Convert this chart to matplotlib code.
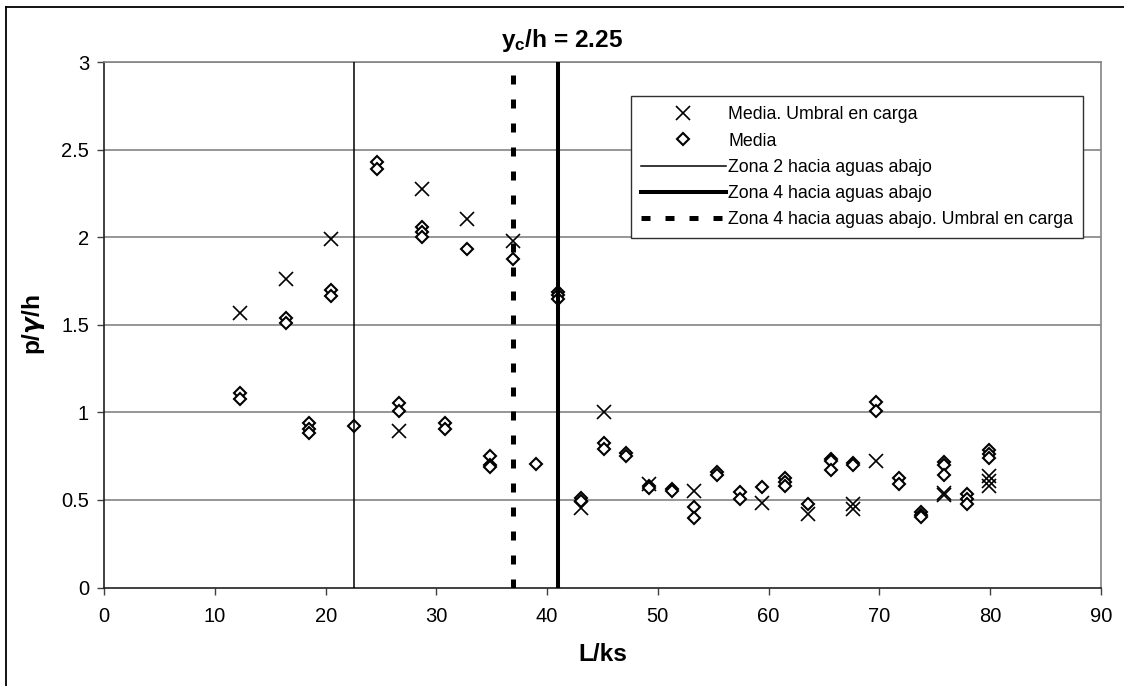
import matplotlib
matplotlib.use("Agg")
import matplotlib.pyplot as plt
from matplotlib import font_manager
from matplotlib.lines import Line2D

# ---- data -------------------------------------------------------------
# Media. Umbral en carga (crosses)
L_umbral = [12.3, 16.4, 20.5, 26.65, 28.7, 32.8, 36.9, 43.05, 45.1, 49.2,
            53.3, 59.45, 63.55, 67.65, 67.65, 69.7, 75.85, 75.85,
            79.95, 79.95, 79.95]
p_umbral = [1.567, 1.76, 1.99, 0.895, 2.274, 2.103, 1.977, 0.452, 1.0, 0.59,
            0.553, 0.48, 0.419, 0.478, 0.447, 0.722, 0.54, 0.53,
            0.636, 0.608, 0.58]

# Media (diamonds)
L_media = [12.3, 12.3, 16.4, 16.4, 18.45, 18.45, 18.45, 20.5, 20.5, 22.55,
           24.6, 24.6, 26.65, 26.65, 28.7, 28.7, 28.7, 30.75, 30.75, 32.8,
           34.85, 34.85, 34.85, 36.9, 38.95, 41.0, 41.0, 41.0, 43.05, 43.05,
           45.1, 45.1, 47.15, 47.15, 49.2, 49.2, 51.25, 51.25, 53.3, 53.3,
           55.35, 55.35, 57.4, 57.4, 59.45, 61.5, 61.5, 61.5, 63.55,
           65.6, 65.6, 65.6, 67.65, 67.65, 69.7, 69.7, 71.75, 71.75,
           73.8, 73.8, 73.8, 75.85, 75.85, 75.85, 77.9, 77.9, 77.9,
           79.95, 79.95, 79.95]
p_media = [1.111, 1.079, 1.542, 1.508, 0.939, 0.908, 0.883, 1.70, 1.667, 0.921,
           2.428, 2.39, 1.054, 1.011, 2.06, 2.03, 2.0, 0.939, 0.906, 1.933,
           0.751, 0.70, 0.69, 1.875, 0.707, 1.69, 1.67, 1.65, 0.512, 0.496,
           0.825, 0.79, 0.77, 0.75, 0.58, 0.567, 0.565, 0.55, 0.462, 0.395,
           0.657, 0.645, 0.544, 0.508, 0.576, 0.625, 0.60, 0.58, 0.477,
           0.735, 0.72, 0.67, 0.71, 0.70, 1.059, 1.01, 0.627, 0.589,
           0.43, 0.415, 0.40, 0.718, 0.699, 0.644, 0.534, 0.504, 0.477,
           0.786, 0.763, 0.739]

# zone boundaries (L/ks)
zona2_L = 22.55
zona4_L = 41.0
zona4_umbral_L = 36.9

x_ticks = [0, 10, 20, 30, 40, 50, 60, 70, 80, 90]
y_ticks = [0, 0.5, 1, 1.5, 2, 2.5, 3]
y_tick_labels = ["0", "0.5", "1", "1.5", "2", "2.5", "3"]

# ---- fonts ------------------------------------------------------------
available = {f.name for f in font_manager.fontManager.ttflist}
regular = "Liberation Sans" if "Liberation Sans" in available else "DejaVu Sans"
if "Liberation Sans Narrow" in available:
    narrow = "Liberation Sans Narrow"
    narrow_scale = 1.0
else:
    narrow = regular
    narrow_scale = 0.88

plt.rcParams["font.family"] = [regular, "DejaVu Sans"]
plt.rcParams["mathtext.fontset"] = "custom"
plt.rcParams["mathtext.bf"] = narrow + ":bold"
plt.rcParams["mathtext.rm"] = narrow
plt.rcParams["mathtext.it"] = "DejaVu Sans:italic:bold"

# ---- figure -----------------------------------------------------------
W, H = 1124, 686
fig = plt.figure(figsize=(W / 100, H / 100), dpi=100)
ax = fig.add_axes([104.3 / W, 1 - 587.5 / H, (1100.7 - 104.3) / W, (587.5 - 62.3) / H])

grid_color = "#848484"
for yv in y_ticks[1:]:
    ax.axhline(yv, color=grid_color, lw=1.2, zorder=1)

ax.plot(L_umbral, p_umbral, linestyle="none", marker="x", markersize=9.5,
        markeredgewidth=1.2, color="black", zorder=3,
        label="Media. Umbral en carga")
ax.plot(L_media, p_media, linestyle="none", marker="D", markersize=6.6,
        markeredgewidth=1.5, markeredgecolor="black", markerfacecolor="white",
        zorder=4, label="Media")

ax.axvline(zona2_L, color="black", lw=1.1, zorder=5,
           label="Zona 2 hacia aguas abajo")
ax.axvline(zona4_L, color="black", lw=2.9, zorder=5,
           label="Zona 4 hacia aguas abajo")
ax.axvline(zona4_umbral_L, color="black", lw=3.6, linestyle=(0.0, (1.8, 3.0)),
           zorder=5, label="Zona 4 hacia aguas abajo. Umbral en carga")

ax.set_xlim(0, 90)
ax.set_ylim(0, 3)
ax.set_xticks(x_ticks)
ax.set_yticks(y_ticks)
ax.set_yticklabels(y_tick_labels)
ax.tick_params(axis="both", direction="out", length=5, width=1.0,
               color="#404040", labelsize=14.5)
ax.tick_params(axis="x", pad=9)
ax.tick_params(axis="y", pad=6)

for side in ("left", "bottom"):
    ax.spines[side].set_color("#202020")
    ax.spines[side].set_linewidth(1.2)
for side in ("right", "top"):
    ax.spines[side].set_color(grid_color)
    ax.spines[side].set_linewidth(1.2)

ax.set_xlabel("L/ks", fontfamily=[narrow, "DejaVu Sans"], fontweight="bold",
              fontsize=20 * narrow_scale, labelpad=12)
ax.set_ylabel(r"p/$\gamma$/h", fontfamily=[narrow, "DejaVu Sans"],
              fontweight="bold", fontsize=20 * narrow_scale, labelpad=10)

fig.text(0.5, 1 - 40 / H, r"$\mathbf{y_c}$/h = 2.25", ha="center", va="center",
         fontfamily=[narrow, "DejaVu Sans"], fontweight="bold",
         fontsize=20 * narrow_scale)

leg = ax.legend(loc="upper right", bbox_to_anchor=(1083 / W, 1 - 96.5 / H),
                bbox_transform=fig.transFigure, borderaxespad=0,
                fontsize=12.8, numpoints=1, handlelength=4.8,
                handletextpad=0.12, labelspacing=0.52, borderpad=0.55,
                fancybox=False, framealpha=1, edgecolor="#303030")
leg.get_frame().set_linewidth(1.0)

# outer chart frame (left and top edges)
fig.add_artist(Line2D([6.5 / W, 6.5 / W], [0, 1 - 6.5 / H], color="black",
                      lw=1.3, transform=fig.transFigure))
fig.add_artist(Line2D([6.5 / W, 1], [1 - 6.5 / H, 1 - 6.5 / H], color="black",
                      lw=1.3, transform=fig.transFigure))

fig.savefig("out.png", dpi=100)
